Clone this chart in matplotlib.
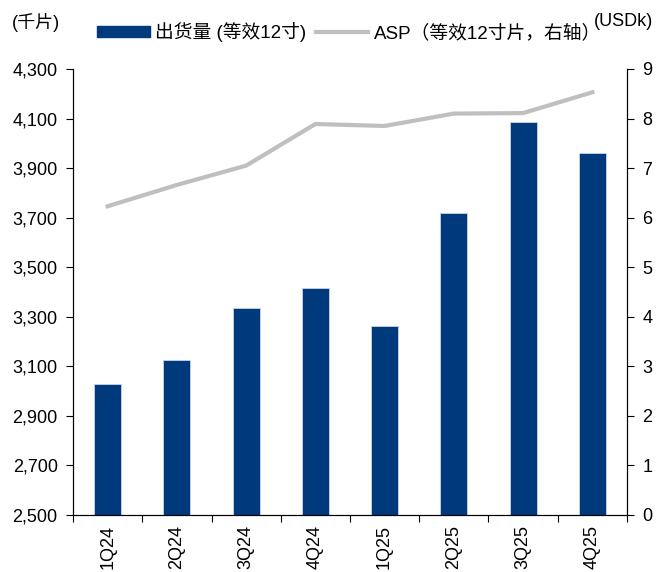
import matplotlib.pyplot as plt
import numpy as np
from matplotlib.patches import Patch
from matplotlib.lines import Line2D

quarters = ["1Q24", "2Q24", "3Q24", "4Q24", "1Q25", "2Q25", "3Q25", "4Q25"]
shipments = [3030, 3124, 3337, 3418, 3261, 3717, 4086, 3961]   # 千片
asp = [6.23, 6.66, 7.05, 7.89, 7.85, 8.10, 8.11, 8.53]         # USDk
left_ticks = [2500, 2700, 2900, 3100, 3300, 3500, 3700, 3900, 4100, 4300]
right_ticks = list(range(0, 10))

bar_color = "#003A7D"
line_color = "#BFBFBF"

plt.rcParams['font.family'] = ['Liberation Sans', 'Noto Sans CJK SC', 'DejaVu Sans']
plt.rcParams['font.size'] = 12.5

fig = plt.figure(figsize=(6.59, 5.72), dpi=100)
ax = fig.add_axes((0.1108, 0.0997, 0.8406, 0.7797))
x = np.arange(len(quarters))

ax.bar(x, shipments, width=0.39, color=bar_color, edgecolor="#C8D3E6", linewidth=0.6,
       zorder=2)
ax.set_ylim(2500, 4300)
ax.set_yticks(left_ticks)
ax.set_yticklabels([f"{v:,}" for v in left_ticks], fontsize=13)
ax.set_xlim(-0.5, len(quarters) - 0.5)
ax.set_xticks(x)
ax.set_xticklabels(quarters, rotation=90, fontsize=13)
ax.tick_params(axis='x', which='major', length=0, pad=7)
ax.set_xticks(np.arange(-0.5, len(quarters)), minor=True)
ax.tick_params(axis='x', which='minor', length=5, width=0.8)
ax.tick_params(axis='y', direction='out', length=5, width=0.8, pad=6)
ax.spines['top'].set_visible(False)

ax2 = ax.twinx()
ax2.plot(x, asp, color=line_color, linewidth=3, zorder=3)
ax2.set_ylim(0, 9)
ax2.set_yticks(right_ticks)
ax2.tick_params(axis='y', direction='out', length=5, width=0.8, pad=6, labelsize=13)
ax2.spines['top'].set_visible(False)

fig.text(0.018, 0.96, "(千片)", ha='left', va='center', fontsize=13)
fig.text(0.991, 0.962, "(USDk)", ha='right', va='center', fontsize=13)

handles = [Patch(facecolor=bar_color, edgecolor=bar_color),
           Line2D([0], [0], color=line_color, linewidth=3)]
labels = ["出货量 (等效12寸)", "ASP（等效12寸片，右轴）"]
fig.legend(handles, labels, loc='center left', bbox_to_anchor=(97 / 659, 0.944), ncol=2,
           frameon=False, borderpad=0, borderaxespad=0, fontsize=13.5, handlelength=2.8,
           handleheight=0.5, columnspacing=0.5, handletextpad=0.3)

fig.savefig("out.png", dpi=100)
